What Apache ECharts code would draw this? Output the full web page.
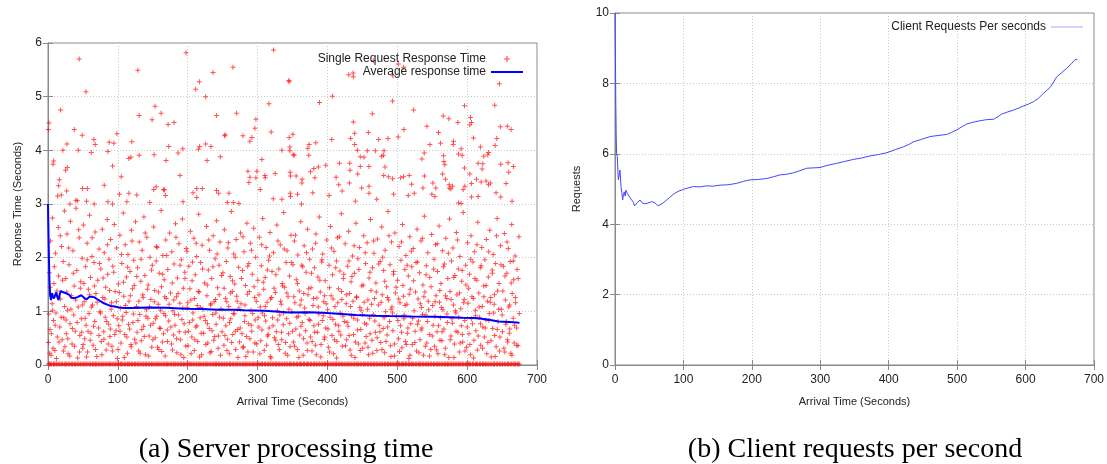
<!DOCTYPE html>
<html>
<head>
<meta charset="utf-8">
<title>Server processing time / Client requests per second</title>
<script src="https://cdn.jsdelivr.net/npm/echarts@6/dist/echarts.min.js"></script>
<style>
  html, body { margin: 0; padding: 0; background: #fff; }
  #main { width: 1107px; height: 464px; }
</style>
</head>
<body>
<div id="main"></div>
<script>
// tick labels
const xTicks = [0, 100, 200, 300, 400, 500, 600, 700];
const leftYTicks = [0, 1, 2, 3, 4, 5, 6];
const rightYTicks = [0, 2, 4, 6, 8, 10];

// single request response times above 3 s (read point by point)
const slowResponses = [
  [44.7,5.70],[54.3,5.09],[18,4.75],[1.4,4.51],[0.5,4.39],[37.6,4.39],[49,4.28],[65.7,4.20],[67.6,4.11],
  [87.6,4.15],[94.3,4.13],[98.6,4.31],[27.1,4.12],[21.4,4.0],[43.3,4.0],[61.9,3.96],[85.7,3.98],[8.1,3.80],
  [7.1,3.74],[27.6,3.68],[25.2,3.63],[92.4,3.71],[104.8,3.51],[16.2,3.45],[15.2,3.34],[26.7,3.24],[19,3.17],
  [13.8,3.15],[49.5,3.29],[56.2,3.29],[80.5,3.35],[40,3.07],[41.9,3.06],[55.2,3.05],[85.7,3.04],[31.4,3.0],
  [66.2,3.0],[92.4,3.0],
  [128.6,5.49],[130.5,4.65],[153.3,4.82],[161.9,4.69],[149,4.57],[171.9,4.48],[180.5,4.52],[120,4.16],
  [172.9,4.07],[192.9,4.03],[130.5,3.91],[151.9,3.92],[115.7,3.85],[118.6,3.87],[169,3.81],[186.2,3.95],
  [189,3.53],[154.8,3.32],[151.4,3.27],[165.2,3.27],[166.7,3.26],[102.4,3.18],[115.7,3.2],[127.1,3.17],
  [168,3.16],[112.9,3.04],[145.7,3.03],[193.3,3.04],
  [197.6,5.82],[236.2,5.45],[264.8,5.55],[216.7,5.28],[211.4,5.14],[225.7,5.0],[241.4,4.65],[270,4.69],
  [297.6,4.58],[296.2,4.41],[252.9,4.27],[253.6,4.29],[279,4.27],[291.9,4.24],[289,4.17],[217.1,4.07],
  [215.2,4.02],[225.7,4.12],[233.3,4.07],[227.6,3.81],[246.7,3.88],[207.6,3.21],[212.9,3.29],[221,3.29],
  [212.9,3.12],[241.4,3.25],[244.3,3.2],[259,3.2],[286.2,3.61],[299,3.61],[289,3.50],[287.6,3.40],
  [297.6,3.49],[256.7,3.03],[265.2,3.03],[273.3,3.01],
  [322.9,5.87],[344.8,5.30],[345.2,5.28],[316.2,4.87],[319.5,4.34],[350.5,4.30],[345.2,4.24],[346.2,4.06],
  [334.8,4.0],[346.2,3.99],[351,3.92],[306.2,3.83],[310.5,3.53],[310.9,3.49],[325.2,3.57],[346.7,3.59],
  [347.1,3.52],[303.8,3.27],[346.7,3.2],[347.1,3.14],[322.4,3.1],[334.8,3.09],
  [388.6,4.89],[407.1,5.01],[430.5,5.41],[436.7,5.44],[437.1,5.37],[465.7,5.67],[493.8,5.39],[501.4,5.61],
  [509,5.55],[493.3,4.92],[646.2,5.24],[639.5,4.84],[596.2,4.83],[523.3,4.75],[464.3,4.68],[437.1,4.53],
  [509.4,4.39],[501.4,4.25],[542.4,4.45],[565.7,4.64],[573.8,4.59],[586.7,4.52],[604.8,4.61],[606.2,4.52],
  [603.8,4.47],[647.6,4.44],[657.6,4.45],[662.9,4.39],[559,4.33],[580.5,4.17],[609,4.23],[642.4,4.22],
  [640,4.09],[619,4.06],[371.9,4.04],[373.8,4.11],[383.3,4.14],[406.2,4.2],[433.3,4.22],[439,4.32],
  [458.6,4.33],[473.3,4.2],[486.7,4.22],[439,4.11],[442.9,4.0],[457.1,3.99],[468.6,3.99],[481,3.99],
  [546.7,4.11],[561.9,4.13],[580,4.11],[591.4,4.03],[538.6,3.95],[535.2,3.84],[373.3,3.91],[352.4,3.91],
  [447,3.88],[452.4,3.87],[477.6,3.89],[480,3.91],[587.6,3.93],[592.9,3.91],[623.8,3.89],[629.5,3.92],
  [630.5,3.96],[566.2,3.90],[566.6,3.79],[568.1,3.73],[397.6,3.72],[417.1,3.76],[431.9,3.76],[432.4,3.63],
  [447,3.7],[459.5,3.7],[380.6,3.66],[387.1,3.69],[375.7,3.6],[482.4,3.69],[504.8,3.49],[509,3.51],
  [355.2,3.52],[363.8,3.46],[363.3,3.39],[382,3.49],[412.4,3.50],[416.2,3.36],[431.4,3.39],[443.3,3.56],
  [449,3.3],[459.5,3.33],[480.5,3.53],[487.6,3.51],[493.3,3.47],[517.1,3.53],[520.5,3.37],[536.7,3.3],
  [539,3.52],[550.9,3.39],[555.2,3.3],[564.8,3.56],[569,3.46],[574.3,3.36],[579,3.33],[596.2,3.67],
  [596.7,3.33],[594.3,3.27],[603.8,3.56],[606.2,3.38],[613.3,3.46],[620,3.41],[615.7,3.76],[622.4,3.75],
  [621.4,3.65],[627.1,3.43],[630.5,3.36],[633.3,3.39],[648.1,3.74],[658.6,3.77],[666.2,3.70],[655.7,3.38],
  [659.5,3.59],[357.1,3.18],[379,3.21],[402.4,3.16],[421,3.24],[440,3.05],[459.5,3.20],[470.5,3.09],
  [494.8,3.18],[515.7,3.16],[524.3,3.2],[549.5,3.18],[553.8,3.14],[574.3,3.3],[576.6,3.28],[587.6,3.02],
  [591.4,3.01],[606.2,3.13],[615.7,3.14],[641.4,3.21],[648.1,3.13],[664.3,3.05],[362.9,3.0]
];

// response times below 3 s (dense cloud, estimated per 25 s strip)
const fastResponses = [
  [0.6,0.42],[1.8,1.72],[2.9,0.66],[3.7,2.31],[4.4,0.18],[5.9,1.14],[6.3,2.74],[7.8,0.83],[8.5,1.52],[9.9,0.27],[10.6,2.08],[11.4,0.97],[12.8,1.38],[13.3,0.52],[14.7,2.56],[15.2,1.66],[16.9,0.71],[18.1,1.23],[19.4,2.21],[20.3,0.47],[21.7,1.93],[22.6,0.88],[23.5,2.87],[24.2,0.34],
  [25.4,1.61],[26.1,0.58],[27.3,2.44],[27.9,1.02],[28.8,0.21],[30.2,1.87],[31.5,0.77],[32.1,2.68],[33.6,1.29],[34.4,0.39],[35.8,2.13],[36.7,0.93],[37.5,1.47],[38.9,0.63],[40.1,2.92],[41.2,1.76],[42.4,0.13],[43.3,1.08],[44.7,2.37],[45.6,0.55],[46.8,1.55],[47.7,0.86],[48.9,1.99],[49.6,0.31],
  [50.7,2.61],[51.9,1.18],[52.4,0.49],[53.8,1.83],[54.5,0.74],[55.9,2.27],[56.6,0.24],[57.8,1.41],[58.7,0.96],[59.5,2.79],[60.8,1.63],[61.4,0.59],[62.9,2.02],[63.7,1.12],[64.6,0.37],[65.8,1.91],[66.9,0.81],[67.5,2.48],[68.6,1.33],[69.9,0.16],[71.2,1.58],[72.4,0.69],[73.1,2.16],[74.3,0.99],
  [75.6,1.79],[76.2,0.44],[77.7,2.53],[78.4,1.26],[79.8,0.62],[80.5,2.09],[81.9,0.89],[82.6,1.45],[83.3,0.28],[84.8,2.71],[85.5,1.69],[86.9,0.76],[87.4,1.97],[88.7,0.53],[89.6,2.34],[90.9,1.16],[91.5,0.35],[92.8,1.84],[93.6,0.92],[94.9,2.62],[96.1,1.37],[97.3,0.64],[98.2,2.18],[99.4,0.12],
  [100.8,1.51],[101.5,0.73],[102.9,2.42],[103.6,1.06],[104.4,0.41],[105.7,1.89],[106.3,0.84],[107.8,2.83],[108.5,1.28],[109.9,0.57],[110.6,2.24],[111.8,0.98],[112.4,1.64],[113.7,0.22],[114.5,2.06],[115.9,1.19],[116.7,0.67],[117.4,1.74],[118.8,0.38],[119.5,2.51],[120.9,1.42],[121.6,0.79],[122.7,1.95],[124.1,0.48],
  [125.3,2.67],[126.7,1.09],[127.5,0.61],[128.2,1.81],[129.8,0.26],[130.6,2.29],[131.4,0.94],[132.9,1.56],[133.5,0.45],[134.8,2.14],[135.6,1.31],[136.9,0.72],[137.3,2.76],[138.7,1.67],[139.4,0.19],[140.8,1.03],[141.5,2.38],[142.9,0.87],[143.4,1.49],[144.7,0.54],[145.9,2.01],[147.2,1.22],[148.5,0.33],[149.3,1.86],
  [150.6,0.78],[151.3,2.57],[152.8,1.39],[153.4,0.51],[154.9,1.94],[155.7,0.91],[156.2,2.19],[157.8,1.13],[158.6,0.29],[159.3,1.71],[160.7,0.68],[161.9,2.88],[162.4,1.46],[163.8,0.43],[164.5,2.04],[165.9,0.96],[166.3,1.59],[167.7,0.17],[168.6,2.33],[169.4,1.24],[170.8,0.65],[171.5,1.78],[172.9,0.82],[174.1,2.46],
  [175.4,1.34],[176.8,0.39],[177.3,2.11],[178.9,1.01],[179.6,0.56],[180.4,1.88],[181.8,0.74],[182.5,2.63],[183.9,1.27],[184.6,0.23],[185.2,1.62],[186.7,0.93],[187.4,2.26],[188.8,1.15],[189.5,0.47],[190.9,1.96],[191.6,0.85],[192.3,2.72],[193.7,1.43],[194.4,0.14],[195.8,1.73],[196.5,0.61],[197.9,2.17],[199.1,1.07],
  [200.5,0.36],[201.7,1.84],[202.4,0.79],[203.8,2.49],[204.5,1.21],[205.9,0.52],[206.3,1.57],[207.6,0.97],[208.9,2.36],[209.4,0.27],[210.8,1.68],[211.5,0.71],[212.9,2.02],[213.6,1.11],[214.3,0.44],[215.7,2.81],[216.4,1.36],[217.8,0.88],[218.5,1.91],[219.9,0.19],[220.6,2.23],[221.8,1.04],[222.7,0.59],[224.2,1.53],
  [225.3,0.83],[226.9,2.58],[227.4,1.29],[228.7,0.41],[229.5,1.77],[230.8,0.68],[231.3,2.14],[232.9,1.12],[233.6,0.25],[234.4,1.61],[235.8,0.94],[236.5,2.41],[237.9,1.18],[238.6,0.53],[239.3,1.98],[240.7,0.76],[241.4,2.69],[242.8,1.44],[243.5,0.31],[244.9,1.86],[245.6,0.89],[246.3,2.29],[247.7,1.05],[249.1,0.62],
  [250.4,1.72],[251.8,0.37],[252.5,2.52],[253.9,1.24],[254.6,0.73],[255.3,1.93],[256.7,0.48],[257.4,2.18],[258.8,1.09],[259.5,0.21],[260.9,1.65],[261.6,0.86],[262.4,2.86],[263.8,1.37],[264.5,0.57],[265.9,2.07],[266.6,0.95],[267.3,1.51],[268.7,0.29],[269.4,2.34],[270.8,1.19],[271.5,0.66],[272.9,1.82],[274.2,0.43],
  [275.6,2.46],[276.3,1.14],[277.7,0.58],[278.4,1.76],[279.8,0.34],[280.5,2.11],[281.9,0.92],[282.6,1.48],[283.3,0.16],[284.7,2.64],[285.4,1.32],[286.8,0.77],[287.5,1.89],[288.9,0.49],[289.6,2.27],[290.3,1.02],[291.7,0.63],[292.4,1.69],[293.8,0.24],[294.5,2.55],[295.9,1.26],[296.6,0.84],[297.3,2.01],[298.7,0.39],
  [300.4,1.58],[301.8,0.71],[302.5,2.38],[303.9,1.08],[304.6,0.45],[305.3,1.85],[306.7,0.97],[307.4,2.73],[308.8,1.41],[309.5,0.27],[310.9,1.63],[311.6,0.82],[312.3,2.19],[313.7,1.17],[314.4,0.54],[315.8,1.95],[316.5,0.69],[317.9,2.47],[318.6,1.23],[319.3,0.13],[320.7,1.74],[321.4,0.88],[322.8,2.09],[324.1,0.51],
  [325.5,1.35],[326.9,0.62],[327.6,2.61],[328.3,1.01],[329.7,0.38],[330.4,1.79],[331.8,0.93],[332.5,2.24],[333.9,1.13],[334.6,0.47],[335.3,1.52],[336.7,0.75],[337.4,2.84],[338.8,1.45],[339.5,0.22],[340.9,1.91],[341.6,0.86],[342.3,2.13],[343.7,1.27],[344.4,0.58],[345.8,1.66],[346.5,0.34],[347.9,2.42],[349.2,0.99],
  [350.6,1.87],[351.3,0.43],[352.7,2.31],[353.4,1.16],[354.8,0.67],[355.5,1.59],[356.9,0.29],[357.6,2.05],[358.3,0.91],[359.7,1.38],[360.4,0.56],[361.8,2.67],[362.5,1.21],[363.9,0.79],[364.6,1.83],[365.3,0.18],[366.7,2.22],[367.4,1.06],[368.8,0.64],[369.5,1.73],[370.9,0.41],[371.6,2.53],[372.3,1.31],[373.7,0.85],[374.6,1.97],
  [375.8,0.52],[376.5,1.44],[377.9,0.26],[378.6,2.16],[379.3,1.11],[380.7,0.73],[381.4,1.81],[382.8,0.37],[383.5,2.44],[384.9,1.25],[385.6,0.61],[386.3,1.64],[387.7,0.95],[388.4,2.76],[389.8,1.36],[390.5,0.15],[391.9,1.92],[392.6,0.83],[393.3,2.07],[394.7,1.18],[395.4,0.48],[396.8,1.57],[397.5,0.69],[398.9,2.33],
  [400.3,1.03],[401.7,0.33],[402.4,1.86],[403.8,0.89],[404.5,2.58],[405.2,1.29],[406.6,0.55],[407.3,1.68],[408.7,0.21],[409.4,2.12],[410.8,1.09],[411.5,0.76],[412.9,1.94],[413.6,0.44],[414.3,2.37],[415.7,1.42],[416.4,0.63],[417.8,1.75],[418.5,0.97],[419.9,2.82],[420.6,1.22],[421.3,0.35],[422.7,1.61],[424.1,0.81],
  [425.4,2.26],[426.8,1.14],[427.5,0.47],[428.9,1.84],[429.6,0.72],[430.3,2.49],[431.7,1.33],[432.4,0.28],[433.8,1.55],[434.5,0.92],[435.9,2.03],[436.6,1.19],[437.3,0.57],[438.7,1.71],[439.4,0.14],[440.8,2.64],[441.5,1.26],[442.9,0.84],[443.6,1.98],[444.3,0.39],[445.7,2.19],[446.4,1.07],[447.8,0.66],[449.2,1.47],
  [450.5,0.31],[451.9,2.41],[452.6,1.17],[453.3,0.78],[454.7,1.89],[455.4,0.53],[456.8,2.28],[457.5,1.04],[458.9,0.19],[459.6,1.62],[460.3,0.87],[461.7,2.71],[462.4,1.39],[463.8,0.46],[464.5,1.81],[465.9,0.94],[466.6,2.08],[467.3,1.24],[468.7,0.61],[469.4,1.53],[470.8,0.27],[471.5,2.35],[472.9,1.12],[474.2,0.74],
  [475.6,1.93],[476.3,0.42],[477.7,2.57],[478.4,1.31],[479.8,0.68],[480.5,1.76],[481.9,0.23],[482.6,2.14],[483.3,0.99],[484.7,1.46],[485.4,0.56],[486.8,2.86],[487.5,1.21],[488.9,0.81],[489.6,1.87],[490.3,0.36],[491.7,2.29],[492.4,1.08],[493.8,0.64],[494.5,1.69],[495.9,0.17],[496.6,2.46],[497.3,1.34],[498.7,0.91],
  [500.4,1.58],[501.8,0.49],[502.5,2.21],[503.9,1.16],[504.6,0.73],[505.3,1.95],[506.7,0.32],[507.4,2.62],[508.8,1.28],[509.5,0.86],[510.9,1.78],[511.6,0.44],[512.3,2.04],[513.7,1.13],[514.4,0.59],[515.8,1.66],[516.5,0.12],[517.9,2.39],[518.6,1.41],[519.3,0.77],[520.7,1.83],[521.4,0.38],[522.8,2.17],[524.1,1.01],
  [525.5,0.63],[526.9,1.91],[527.6,0.26],[528.3,2.53],[529.7,1.23],[530.4,0.82],[531.8,1.72],[532.5,0.47],[533.9,2.31],[534.6,1.07],[535.3,0.69],[536.7,1.49],[537.4,0.18],[538.8,2.77],[539.5,1.36],[540.9,0.93],[541.6,1.85],[542.3,0.41],[543.7,2.09],[544.4,1.19],[545.8,0.57],[546.5,1.63],[547.9,0.29],[549.2,2.43],
  [550.6,1.11],[551.3,0.74],[552.7,1.97],[553.4,0.35],[554.8,2.24],[555.5,1.29],[556.9,0.62],[557.6,1.74],[558.3,0.21],[559.7,2.59],[560.4,1.17],[561.8,0.88],[562.5,1.52],[563.9,0.45],[564.6,2.13],[565.3,1.03],[566.7,0.67],[567.4,1.88],[568.8,0.31],[569.5,2.36],[570.9,1.24],[571.6,0.79],[572.3,1.61],[573.7,0.14],[574.8,2.72],
  [575.5,1.37],[576.9,0.54],[577.6,1.94],[578.3,0.86],[579.7,2.18],[580.4,1.12],[581.8,0.39],[582.5,1.67],[583.9,0.97],[584.6,2.47],[585.3,1.31],[586.7,0.61],[587.4,1.79],[588.8,0.24],[589.5,2.02],[590.9,1.05],[591.6,0.73],[592.3,1.56],[593.7,0.43],[594.4,2.84],[595.8,1.22],[596.5,0.83],[597.9,1.86],[599.2,0.33],
  [600.6,2.28],[601.3,1.15],[602.7,0.58],[603.4,1.69],[604.8,0.19],[605.5,2.41],[606.9,1.27],[607.6,0.77],[608.3,1.92],[609.7,0.46],[610.4,2.11],[611.8,1.02],[612.5,0.64],[613.9,1.58],[614.6,0.28],[615.3,2.66],[616.7,1.34],[617.4,0.89],[618.8,1.81],[619.5,0.37],[620.9,2.19],[621.6,1.09],[622.3,0.71],[623.7,1.47],[624.6,0.52],
  [625.4,1.96],[626.8,0.84],[627.5,2.34],[628.9,1.19],[629.6,0.42],[630.3,1.64],[631.7,0.96],[632.4,2.51],[633.8,1.26],[634.5,0.15],[635.9,1.77],[636.6,0.68],[637.3,2.06],[638.7,1.13],[639.4,0.55],[640.8,1.89],[641.5,0.34],[642.9,2.73],[643.6,1.38],[644.3,0.81],[645.7,1.52],[646.4,0.26],[647.8,2.22],[649.1,1.04],
  [650.5,0.62],[651.9,1.84],[652.6,0.31],[653.3,2.45],[654.7,1.21],[655.4,0.76],[656.8,1.71],[657.5,0.47],[658.9,2.17],[659.6,1.08],[660.3,0.59],[661.7,1.93],[662.4,0.22],[663.8,2.62],[664.5,1.33],[665.9,0.87],[666.6,1.59],[667.3,0.41],[668.7,2.03],[669.4,1.16],[670.8,0.69],[671.5,1.78],[672.9,0.36],[674.2,2.39]
];

// second pass over the thickest part of the cloud (mostly below 1.6 s)
const lowResponses = [
  [0.9,0.95],[2.4,0.22],[3.1,1.45],[4.8,0.58],[6.7,1.02],[7.2,0.31],[9.1,1.83],[10.3,0.74],[12.1,0.12],[13.9,1.27],[15.8,0.43],[17.5,2.41],[18.8,0.89],[20.9,1.58],[22.1,0.26],[23.8,1.09],
  [25.9,0.84],[26.8,1.36],[28.3,0.49],[29.7,2.18],[31.1,0.17],[32.8,1.04],[34.9,0.68],[36.2,1.71],[37.9,0.35],[39.6,1.21],[41.8,0.79],[43.9,2.52],[45.1,0.24],[46.3,1.43],[48.2,0.61],[49.1,1.12],
  [50.2,0.38],[51.4,1.52],[53.1,0.87],[55.2,0.15],[56.1,1.96],[57.3,0.63],[59.2,1.31],[60.3,0.46],[62.1,1.08],[63.2,2.37],[65.1,0.72],[66.4,1.47],[68.1,0.29],[70.4,1.17],[72.9,0.55],[73.8,1.89],
  [75.1,0.97],[77.1,0.19],[78.9,1.62],[80.1,0.48],[81.4,1.23],[83.9,0.81],[85.1,2.24],[86.2,0.39],[88.1,1.39],[89.2,0.67],[90.3,1.04],[92.2,0.26],[94.1,1.73],[95.6,0.57],[97.8,1.18],[99.1,0.86],
  [100.2,0.29],[102.1,1.35],[103.1,0.63],[105.2,2.06],[106.9,0.91],[108.1,1.54],[109.2,0.14],[111.2,1.11],[112.9,0.52],[114.1,1.82],[115.3,0.76],[117.9,1.29],[119.1,0.34],[120.3,2.31],[122.1,0.95],[123.4,1.48],
  [125.8,0.41],[127.1,1.65],[128.8,0.83],[130.1,1.19],[131.9,0.22],[133.1,1.97],[134.3,0.66],[136.2,1.26],[137.8,0.53],[139.1,2.46],[140.2,0.91],[142.3,1.41],[144.1,0.17],[145.3,1.08],[146.8,0.74],[148.1,1.77],
  [150.1,0.47],[152.2,1.18],[153.9,0.86],[155.1,2.21],[156.8,0.33],[158.1,1.36],[159.9,0.69],[161.2,1.02],[162.9,0.25],[164.1,1.69],[165.3,0.58],[167.2,1.27],[168.1,0.92],[169.9,2.04],[171.1,0.44],[173.4,1.13],
  [175.9,0.71],[177.9,1.53],[178.2,0.28],[180.1,1.21],[181.2,0.94],[183.2,2.38],[184.1,0.49],[186.2,1.33],[187.9,0.62],[189.1,1.86],[190.2,0.19],[192.9,1.06],[194.9,0.77],[196.1,1.61],[197.2,0.35],[198.8,2.12],
  [200.1,1.16],[201.2,0.63],[203.1,1.42],[204.9,0.21],[206.8,1.92],[207.1,0.84],[209.9,1.24],[210.2,0.47],[212.1,2.27],[213.1,0.73],[215.2,1.37],[216.9,0.15],[218.1,1.07],[219.2,0.59],[221.2,1.79],[223.4,0.91],
  [225.9,0.38],[227.9,1.49],[228.2,0.77],[230.1,2.33],[231.9,0.23],[233.1,1.14],[234.9,0.64],[236.1,1.83],[237.2,0.46],[239.8,1.22],[240.2,0.97],[242.1,2.07],[243.9,0.54],[245.1,1.31],[246.8,0.18],[248.4,1.67],
  [250.9,0.87],[252.1,1.43],[253.2,0.55],[255.9,1.18],[256.2,0.27],[258.1,2.28],[259.9,0.79],[261.1,1.34],[262.9,0.42],[264.1,1.57],[265.2,0.96],[267.9,2.01],[268.2,0.63],[270.1,1.28],[271.9,0.14],[273.3,1.06],
  [275.1,0.69],[276.9,1.61],[278.9,0.32],[279.1,2.39],[281.2,0.81],[282.1,1.12],[284.1,0.53],[285.9,1.84],[286.2,0.24],[288.1,1.37],[290.9,0.74],[291.2,2.14],[293.1,0.96],[294.9,1.46],[296.1,0.41],[298.2,1.19],
  [300.9,0.88],[302.1,1.31],[303.2,0.21],[305.9,2.24],[306.2,0.65],[308.1,1.54],[309.9,0.92],[311.1,1.09],[312.9,0.37],[314.1,1.77],[315.2,0.57],[317.1,2.03],[318.2,0.16],[320.1,1.26],[322.1,0.73],[323.6,1.43],
  [325.9,0.46],[326.2,1.68],[328.9,0.84],[329.2,2.31],[331.1,0.29],[332.9,1.19],[334.1,0.61],[335.9,1.47],[337.1,0.97],[338.2,2.16],[340.1,0.42],[341.9,1.34],[343.1,0.18],[344.9,1.04],[346.1,0.78],[348.3,1.91],
  [350.1,0.63],[351.9,1.27],[353.1,0.35],[354.2,2.42],[356.1,0.89],[357.1,1.52],[359.1,0.14],[360.9,1.12],[362.1,0.72],[363.2,1.86],[365.9,0.49],[366.1,1.33],[368.1,0.96],[370.1,2.09],[371.2,0.27],[373.2,1.42],
  [375.1,0.83],[377.1,1.71],[378.1,0.44],[380.1,1.24],[381.9,0.61],[383.1,2.27],[384.1,0.19],[386.9,1.08],[387.2,0.76],[389.1,1.58],[390.9,0.38],[392.1,1.96],[394.1,0.92],[395.9,1.29],[396.2,0.52],[398.2,1.14],
  [400.9,0.67],[402.9,1.44],[403.1,0.24],[405.9,2.18],[407.9,0.85],[408.1,1.23],[410.1,0.47],[411.9,1.81],[413.1,0.13],[414.9,1.16],[416.1,0.73],[417.1,2.39],[419.1,0.56],[420.1,1.37],[422.1,0.91],[423.4,1.69],
  [425.9,0.36],[427.1,1.31],[428.1,0.79],[430.9,1.94],[431.1,0.55],[433.1,1.09],[434.1,0.18],[435.1,1.65],[437.9,0.87],[438.2,2.22],[440.1,0.43],[441.9,1.27],[443.1,0.65],[445.1,1.78],[446.9,0.27],[448.3,1.02],
  [450.1,0.94],[451.1,1.49],[453.9,0.41],[454.1,2.09],[456.1,0.76],[457.9,1.21],[458.1,0.33],[460.9,1.73],[461.1,0.58],[463.1,1.13],[464.9,0.22],[466.1,2.31],[467.9,0.82],[469.9,1.36],[471.1,0.51],[473.4,1.88],
  [475.1,0.62],[476.9,1.17],[478.1,0.29],[479.1,2.01],[481.1,0.88],[482.1,1.56],[483.9,0.44],[485.9,1.26],[486.1,0.71],[488.1,2.41],[490.9,0.16],[491.1,1.04],[493.1,0.97],[494.9,1.74],[496.1,0.39],[498.3,1.45],
  [500.9,0.83],[502.1,1.23],[503.2,0.25],[505.9,2.29],[506.1,0.61],[508.1,1.48],[509.9,0.93],[511.1,1.11],[512.9,0.38],[514.1,1.86],[515.2,0.69],[517.1,1.32],[518.1,0.18],[520.1,2.12],[521.9,0.87],[523.4,1.57],
  [525.1,0.42],[526.1,1.36],[528.9,0.76],[529.1,1.92],[531.1,0.23],[532.9,1.14],[534.1,0.65],[535.9,2.36],[536.1,0.94],[538.1,1.27],[540.1,0.35],[541.1,1.68],[543.1,0.81],[544.9,1.03],[546.1,0.17],[548.3,1.46],
  [550.1,0.54],[552.1,1.79],[553.9,0.91],[554.1,1.18],[556.1,0.28],[557.1,2.26],[559.1,0.73],[560.9,1.39],[561.1,0.46],[563.1,1.07],[564.1,0.62],[566.1,1.83],[567.9,0.19],[569.1,1.29],[571.1,0.95],[573.1,2.08],
  [575.9,0.47],[577.1,1.22],[578.9,0.78],[580.9,1.63],[581.1,0.14],[583.1,1.01],[584.1,0.63],[586.1,2.33],[587.9,0.89],[589.1,1.34],[590.1,0.41],[592.9,1.76],[593.1,0.57],[595.1,1.16],[596.9,0.26],[598.2,1.49],
  [600.1,0.71],[602.1,1.43],[603.9,0.38],[605.1,1.97],[606.1,0.86],[608.9,1.24],[609.1,0.13],[611.1,1.61],[612.1,0.92],[614.1,2.24],[615.9,0.54],[617.1,1.08],[619.1,0.77],[620.1,1.85],[622.1,0.31],[623.9,1.27],
  [625.9,0.69],[627.1,1.48],[628.1,0.21],[630.9,2.11],[631.1,0.83],[633.1,1.17],[634.1,0.45],[636.1,1.71],[637.9,0.97],[639.1,1.31],[640.1,0.16],[642.1,2.41],[643.1,0.66],[645.1,1.04],[646.9,0.52],[648.3,1.87],
  [650.1,0.93],[651.1,1.38],[653.9,0.24],[654.1,1.66],[656.1,0.81],[657.1,2.29],[658.1,0.43],[660.9,1.12],[661.1,0.67],[663.1,1.53],[664.1,0.18],[666.1,1.94],[667.9,0.74],[669.1,1.26],[670.9,0.37],[673.1,1.61],[674.6,0.96]
];

// requests answered almost instantly: the thick band sitting on y = 0
const nearZeroLevel = 0.02;
const nearZeroTimes = [
  0.5,2.1,3.8,5.2,7.9,9.4,11.6,13.1,15.7,17.3,19.8,21.2,23.9,25.4,27.1,29.6,31.3,33.8,35.2,37.7,39.1,41.6,43.4,45.9,47.2,49.8,51.5,53.1,55.6,57.3,59.9,61.2,63.7,65.4,67.8,69.1,71.6,73.3,75.9,77.4,79.1,81.7,83.2,85.8,87.5,89.1,91.6,93.3,95.9,97.4,99.8,
  101.3,103.9,105.4,107.1,109.7,111.2,113.8,115.5,117.1,119.6,121.3,123.9,125.4,127.8,129.2,131.7,133.4,135.9,137.3,139.8,141.1,143.6,145.4,147.9,149.2,151.7,153.3,155.8,157.4,159.1,161.6,163.2,165.9,167.3,169.8,171.4,173.1,175.7,177.2,179.8,181.5,183.1,185.6,187.3,189.9,191.4,193.8,195.1,197.7,199.3,
  201.8,203.4,205.1,207.6,209.2,211.9,213.3,215.8,217.4,219.1,221.7,223.2,225.8,227.5,229.1,231.6,233.3,235.9,237.4,239.8,241.2,243.7,245.4,247.9,249.3,251.8,253.1,255.6,257.4,259.9,261.2,263.7,265.3,267.8,269.4,271.1,273.6,275.2,277.9,279.3,281.8,283.4,285.1,287.7,289.2,291.8,293.5,295.1,297.6,299.3,
  301.9,303.4,305.8,307.1,309.7,311.3,313.9,315.4,317.8,319.2,321.7,323.4,325.9,327.3,329.8,331.1,333.6,335.4,337.9,339.2,341.7,343.3,345.8,347.4,349.1,351.6,353.2,355.9,357.3,359.8,361.4,363.1,365.7,367.2,369.8,371.5,373.1,375.6,377.3,379.9,381.4,383.8,385.1,387.7,389.3,391.8,393.4,395.9,397.3,399.8,
  401.2,403.7,405.4,407.9,409.3,411.8,413.1,415.6,417.4,419.9,421.2,423.7,425.3,427.8,429.4,431.1,433.6,435.2,437.9,439.3,441.8,443.4,445.1,447.7,449.2,451.8,453.5,455.1,457.6,459.3,461.9,463.4,465.8,467.1,469.7,471.3,473.9,475.4,477.8,479.2,481.7,483.4,485.9,487.3,489.8,491.1,493.6,495.4,497.9,499.2,
  501.7,503.3,505.8,507.4,509.1,511.6,513.2,515.9,517.3,519.8,521.4,523.1,525.7,527.2,529.8,531.5,533.1,535.6,537.3,539.9,541.4,543.8,545.1,547.7,549.3,551.8,553.4,555.9,557.3,559.8,561.2,563.7,565.4,567.9,569.3,571.8,573.1,575.6,577.4,579.9,581.2,583.7,585.3,587.8,589.4,591.1,593.6,595.2,597.9,599.3,
  601.8,603.4,605.1,607.7,609.2,611.8,613.5,615.1,617.6,619.3,621.9,623.4,625.8,627.1,629.7,631.3,633.9,635.4,637.8,639.2,641.7,643.4,645.9,647.3,649.8,651.1,653.6,655.4,657.9,659.2,661.7,663.3,665.8,667.4,669.1,671.6,673.2,674.5
];

// running average of the response time
const averageResponse = [
  [0,3.0],[0.5,2.6],[1.2,2.08],[2,1.6],[3,1.3],[4.3,1.21],[5.7,1.34],[7,1.28],[8.6,1.24],[10,1.3],[11.9,1.35],
  [13.5,1.26],[15.2,1.21],[16.5,1.3],[18.1,1.38],[21,1.36],[23.8,1.35],[27,1.33],[31,1.3],[33.5,1.25],[35.7,1.22],
  [39,1.25],[42.9,1.27],[45,1.26],[47.6,1.3],[51,1.26],[54.8,1.22],[57,1.25],[59.5,1.27],[63,1.27],[66.7,1.26],
  [70,1.23],[76.2,1.18],[80,1.15],[85.7,1.12],[90,1.1],[95.2,1.09],[102,1.07],[109.5,1.06],[120,1.06],[142.9,1.07],
  [170,1.065],[195,1.05],[220,1.045],[243,1.03],[265,1.03],[281,1.02],[310,1.01],[345.7,0.98],[374,0.985],
  [393,0.975],[415,0.955],[441,0.93],[465,0.92],[488.6,0.913],[520,0.905],[550.5,0.9],[575,0.89],[593,0.88],
  [610,0.875],[621,0.863],[633,0.84],[645,0.81],[660,0.8],[671,0.79],[675,0.785]
];

// client requests per second (right panel)
const clientRate = [
  [0,10],[0.4,9.2],[0.8,8.3],[1.2,7.4],[1.7,6.6],[2.3,6.0],[3.4,5.92],[4.2,5.5],[4.9,5.26],[6,5.3],[7.3,5.54],
  [8.8,5.07],[10,4.9],[11.2,4.69],[12.5,4.85],[13.6,4.92],[14.8,4.8],[16.1,4.97],[17.8,4.88],[19.5,4.83],[22,4.75],
  [24.4,4.69],[27,4.62],[28.5,4.52],[30.7,4.55],[33,4.62],[36.5,4.69],[40,4.6],[43.9,4.58],[48,4.6],[50.5,4.56],
  [53.6,4.64],[57,4.62],[60,4.58],[63,4.52],[65.8,4.55],[70,4.6],[75.6,4.69],[80,4.76],[85.3,4.85],[92,4.93],
  [99.9,4.99],[107,5.03],[114.5,5.07],[124,5.06],[134,5.09],[143,5.08],[153.5,5.11],[165,5.12],[177.9,5.16],
  [188,5.22],[197.4,5.26],[210,5.27],[221.8,5.30],[232,5.35],[241.2,5.40],[251,5.42],[260.7,5.46],[270,5.52],
  [280.3,5.59],[290,5.6],[299.7,5.61],[310,5.67],[324.1,5.73],[335,5.78],[348.4,5.84],[360,5.88],[372.8,5.94],
  [385,5.98],[397.2,6.03],[410,6.12],[421.5,6.20],[430,6.27],[436.1,6.34],[448,6.41],[460.5,6.49],[472,6.52],
  [484.9,6.55],[492,6.61],[499.5,6.68],[507,6.77],[514.2,6.85],[524,6.9],[533.6,6.94],[543,6.97],[553.1,6.98],
  [560,7.06],[565.3,7.13],[574,7.19],[582.3,7.24],[590,7.3],[596.9,7.36],[604,7.41],[611.5,7.48],[619,7.58],
  [626.2,7.72],[631,7.8],[636,7.89],[641,8.04],[645.7,8.19],[653,8.31],[660.3,8.43],[667,8.56],[672.5,8.68],
  [675.9,8.67]
];

const plusSymbol = 'path://M-1,-0.2H1V0.2H-1Z M-0.2,-1H0.2V-0.2H-0.2Z M-0.2,0.2H0.2V1H-0.2Z';
const axisGray = '#8a8a8a';
const gridStyle = { show: true, lineStyle: { color: '#c8c8c8', type: [1, 2], width: 1 } };
const labelStyle = { color: '#222', fontSize: 12, fontFamily: 'Liberation Sans' };
const nameStyle = { color: '#222', fontSize: 11, fontFamily: 'Liberation Sans' };

function bottomAxis(grid) {
  return {
    gridIndex: grid, type: 'value', min: xTicks[0], max: xTicks[xTicks.length - 1], interval: 100,
    name: 'Arrival Time (Seconds)', nameLocation: 'middle', nameGap: 31, nameTextStyle: nameStyle,
    axisLine: { lineStyle: { color: axisGray } },
    axisTick: { inside: true, length: 5, lineStyle: { color: axisGray } },
    axisLabel: Object.assign({ margin: 9 }, labelStyle),
    splitLine: gridStyle
  };
}
function topAxis(grid) {
  return {
    gridIndex: grid, type: 'value', position: 'top', min: xTicks[0], max: xTicks[xTicks.length - 1], interval: 100,
    axisLine: { lineStyle: { color: axisGray } },
    axisTick: { inside: true, length: 5, lineStyle: { color: axisGray } },
    axisLabel: { show: false }, splitLine: { show: false }
  };
}
function leftAxis(grid, ticks, name, gap) {
  return {
    gridIndex: grid, type: 'value', min: ticks[0], max: ticks[ticks.length - 1], interval: ticks[1] - ticks[0],
    name: name, nameLocation: 'middle', nameGap: gap, nameTextStyle: nameStyle,
    axisLine: { show: true, lineStyle: { color: axisGray } },
    axisTick: { show: true, inside: true, length: 5, lineStyle: { color: axisGray } },
    axisLabel: Object.assign({ margin: 6 }, labelStyle),
    splitLine: gridStyle
  };
}
function rightAxis(grid, ticks) {
  return {
    gridIndex: grid, type: 'value', position: 'right', min: ticks[0], max: ticks[ticks.length - 1], interval: ticks[1] - ticks[0],
    axisLine: { show: true, lineStyle: { color: axisGray } },
    axisTick: { show: true, inside: true, length: 5, lineStyle: { color: axisGray } },
    axisLabel: { show: false }, splitLine: { show: false }
  };
}

const responsePoints = fastResponses.concat(lowResponses, slowResponses, nearZeroTimes.map(t => [t, nearZeroLevel]));

const captionStyle = { fontFamily: 'Liberation Serif', fontSize: 28, fontWeight: 'normal', color: '#000' };
const legendText = { color: '#222', fontSize: 12, fontFamily: 'Liberation Sans' };

const chart = echarts.init(document.getElementById('main'), null, { renderer: 'canvas' });
chart.setOption({
  animation: false,
  backgroundColor: '#fff',
  textStyle: { fontFamily: 'Liberation Sans' },
  title: [
    { text: '(a) Server processing time', left: 281, top: 431, textAlign: 'center', textStyle: captionStyle },
    { text: '(b) Client requests per second', left: 850, top: 431, textAlign: 'center', textStyle: captionStyle }
  ],
  legend: [
    {
      data: [
        { name: 'Single Request Response Time', icon: plusSymbol },
        { name: 'Average response time', icon: 'path://M0,0H16V1H0Z', itemStyle: { color: '#0000ff' } }
      ],
      orient: 'vertical', align: 'right', right: 579, top: 48, itemWidth: 32, itemHeight: 6, itemGap: 1,
      selectedMode: false, textStyle: legendText
    },
    {
      data: [{ name: 'Client Requests Per seconds', icon: 'path://M0,0H32V1H0Z', itemStyle: { color: '#a8a8ff' } }],
      orient: 'vertical', align: 'right', right: 19, top: 16, itemWidth: 32, itemHeight: 6,
      selectedMode: false, textStyle: legendText
    }
  ],
  grid: [
    { left: 48, top: 43, width: 489, height: 322, show: true, borderColor: axisGray, borderWidth: 1 },
    { left: 615, top: 13, width: 479, height: 352, show: true, borderColor: axisGray, borderWidth: 1 }
  ],
  xAxis: [bottomAxis(0), topAxis(0), bottomAxis(1), topAxis(1)],
  yAxis: [
    leftAxis(0, leftYTicks, 'Reponse Time (Seconds)', 25),
    rightAxis(0, leftYTicks),
    leftAxis(1, rightYTicks, 'Requests', 33),
    rightAxis(1, rightYTicks)
  ],
  series: [
    {
      name: 'Single Request Response Time', type: 'scatter', xAxisIndex: 0, yAxisIndex: 0,
      data: responsePoints, symbol: plusSymbol, symbolSize: 5, large: false,
      itemStyle: { color: 'rgba(255,0,0,0.85)' }, z: 2
    },
    {
      name: 'Average response time', type: 'line', xAxisIndex: 0, yAxisIndex: 0,
      data: averageResponse, symbol: 'none', lineStyle: { color: '#0000ff', width: 2 },
      itemStyle: { color: '#0000ff' }, z: 5
    },
    {
      name: 'Client Requests Per seconds', type: 'line', xAxisIndex: 2, yAxisIndex: 2,
      data: clientRate, symbol: 'none', lineStyle: { color: '#4646ff', width: 1 },
      itemStyle: { color: '#4646ff' }, z: 5
    }
  ]
});
</script>
</body>
</html>
